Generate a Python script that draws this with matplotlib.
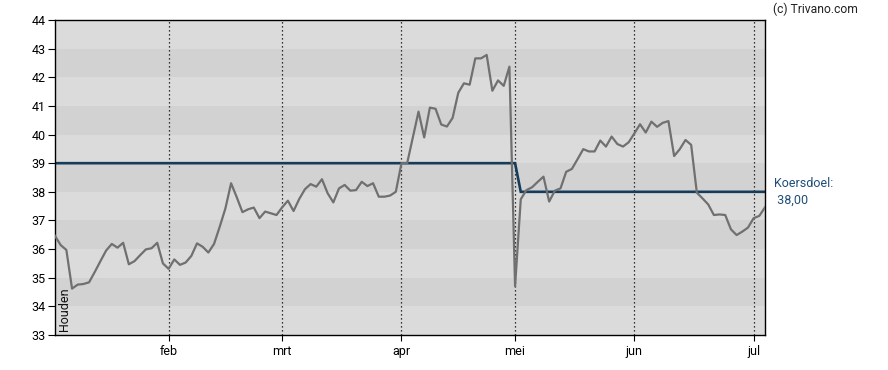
import matplotlib
matplotlib.use("Agg")
import matplotlib.pyplot as plt
import numpy as np
import pandas as pd

# ---- data ----
start_date = "2025-01-06"
end_date = "2025-07-03"
closed_days = ["2025-04-18", "2025-04-21", "2025-05-01"]

prices = [
    36.46, 36.14, 35.97, 34.62, 34.76, 34.78, 34.84, 35.20, 35.58, 35.95,
    36.18, 36.05, 36.22, 35.47, 35.58, 35.79, 35.99, 36.03, 36.22, 35.50,
    35.31, 35.64, 35.45, 35.53, 35.76, 36.20, 36.08, 35.88, 36.18, 36.78,
    37.42, 38.30, 37.81, 37.29, 37.39, 37.45, 37.08, 37.31, 37.25, 37.19,
    37.46, 37.69, 37.33, 37.75, 38.09, 38.27, 38.18, 38.44, 37.95, 37.63,
    38.12, 38.24, 38.04, 38.06, 38.35, 38.20, 38.30, 37.83, 37.83, 37.87,
    38.00, 39.00, 39.00, 39.90, 40.80, 39.90, 40.94, 40.90, 40.35, 40.28,
    40.58, 41.46, 41.79, 41.74, 42.66, 42.66, 42.78, 41.53, 41.89, 41.70,
    42.37, 34.70, 37.74, 38.06, 38.16, 38.35, 38.53, 37.66, 38.04, 38.12,
    38.70, 38.80, 39.14, 39.49, 39.41, 39.41, 39.79, 39.58, 39.93, 39.67,
    39.58, 39.73, 40.04, 40.36, 40.07, 40.45, 40.27, 40.41, 40.47, 39.25,
    39.49, 39.81, 39.64, 37.97, 37.77, 37.56, 37.19, 37.21, 37.19, 36.69,
    36.49, 36.61, 36.75, 37.08, 37.16, 37.46,
]
target_old = 39.0
target_new = 38.0
target_change_date = "2025-05-05"
month_names = {1: "jan", 2: "feb", 3: "mrt", 4: "apr", 5: "mei", 6: "jun", 7: "jul"}
y_ticks = list(range(33, 45))
advice_label = "Houden"
target_label = "Koersdoel:\n 38,00"
credit = "(c) Trivano.com"

# ---- derived ----
dates = pd.bdate_range(start_date, end_date)
dates = dates[~dates.isin(pd.to_datetime(closed_days))]
n = len(prices)
dates = dates[:n]
x = np.arange(n)
target = np.where(dates < pd.Timestamp(target_change_date), target_old, target_new)

months = dates.month
first_idx = [i for i in range(1, n) if months[i] != months[i - 1]]
tick_labels = [month_names[months[i]] for i in first_idx]

plt.rcParams["font.family"] = ["Roboto", "DejaVu Sans"]

fig = plt.figure(figsize=(8.88, 3.70), dpi=100)
ax = fig.add_axes([55 / 888, 35 / 370, 710 / 888, 315 / 370])

# background bands
band_colors = ["#dbdbdb", "#d2d2d2"]
for lo in y_ticks[:-1]:
    idx_from_top = (y_ticks[-1] - 1 - lo)
    ax.axhspan(lo, lo + 1, color=band_colors[idx_from_top % 2], lw=0, zorder=0)

# month dotted lines
for i in first_idx:
    ax.axvline(i, color="black", lw=0.9, linestyle=(0, (1, 2.2)), zorder=1)

ax.plot(x, target, color="#163c5a", lw=1.9, zorder=2, solid_joinstyle="miter")
ax.plot(x, prices, color="#707070", lw=1.6, zorder=3)

ax.set_xlim(0, n - 1)
ax.set_ylim(y_ticks[0], y_ticks[-1])
ax.set_yticks(y_ticks)
ax.set_yticklabels([str(t) for t in y_ticks])
ax.set_xticks(first_idx)
ax.set_xticklabels(tick_labels)
ax.tick_params(axis="y", direction="out", length=5, width=0.8, pad=1.5, labelsize=9, colors="black")
ax.tick_params(axis="x", direction="out", length=4, width=0.8, pad=3, labelsize=9, colors="black")
for sp in ax.spines.values():
    sp.set_color("black")
    sp.set_linewidth(1.0)

ax.text(0.004, 0.012, advice_label, transform=ax.transAxes, rotation=90,
        ha="left", va="bottom", fontsize=9, color="#111111")

ax.annotate(target_label, xy=(1, target_new), xycoords=("axes fraction", "data"),
            xytext=(6.5, 0), textcoords="offset points", ha="left", va="center",
            fontsize=9, color="#1f4e79", linespacing=1.4)

fig.text(773 / 888, 1 - 9 / 370, credit, ha="left", va="center", fontsize=8.7, color="#222222")

fig.savefig("out.png", dpi=100)
